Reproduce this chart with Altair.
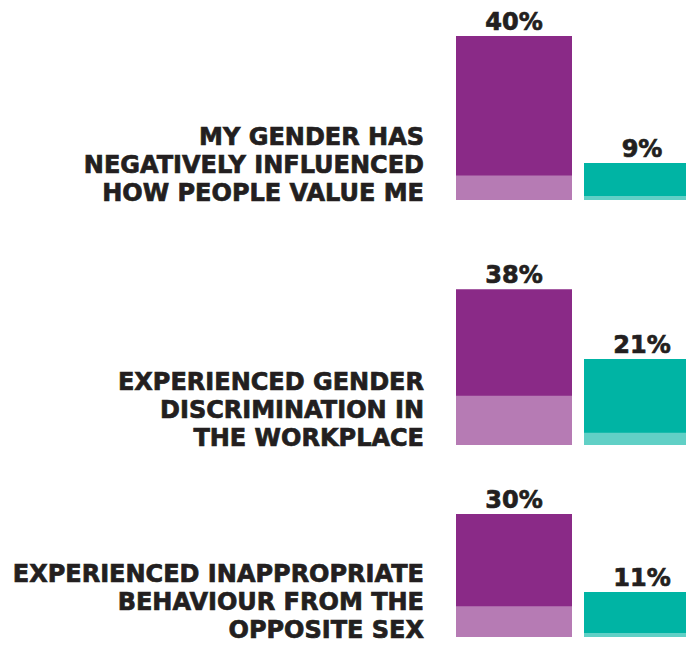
import altair as alt
import pandas as pd

# ---- data ----
statements = [
    ["MY GENDER HAS", "NEGATIVELY INFLUENCED", "HOW PEOPLE VALUE ME"],
    ["EXPERIENCED GENDER", "DISCRIMINATION IN", "THE WORKPLACE"],
    ["EXPERIENCED INAPPROPRIATE", "BEHAVIOUR FROM THE", "OPPOSITE SEX"],
]
series = ["Women", "Men"]
purple_values = [40, 38, 30]
teal_values = [9, 21, 11]
# lighter lower band of each bar (percentage points)
purple_shade = [6, 12, 7.5]
teal_shade = [1, 3, 1]

# ---- styling ----
PURPLE = "#8A2A87"
TEAL = "#00B4A4"
INK = "#231F20"
FONT = "DejaVu Sans"
K = 4.1          # pixels per percentage point
BASE = 7         # pixels of room below the bars
W = 678
heights = [199, 245, 192]


def panel(i):
    H = heights[i]
    df = pd.DataFrame({
        "series": series,
        "value": [purple_values[i], teal_values[i]],
        "shade": [purple_shade[i], teal_shade[i]],
    })
    df["label"] = df["value"].astype(str) + "%"
    lab = pd.DataFrame({"text": [statements[i]]})

    yscale = alt.Scale(domain=[-BASE / K, (H - BASE) / K], nice=False, zero=False)
    xscale = alt.Scale(domain=series, range=[448, 692], paddingInner=0.09375, paddingOuter=0)

    base = alt.Chart(df).encode(
        x=alt.X("series:N", scale=xscale, axis=None),
    )
    bars = base.mark_bar(clip=True).encode(
        y=alt.Y("value:Q", scale=yscale, axis=None, stack=None),
        y2=alt.datum(0),
        color=alt.Color("series:N", scale=alt.Scale(domain=series, range=[PURPLE, TEAL]), legend=None),
    )
    shade = base.mark_bar(clip=True, color="white", opacity=0.38).encode(
        y=alt.Y("shade:Q", scale=yscale, axis=None, stack=None),
        y2=alt.datum(0),
    )
    values = base.mark_text(
        font=FONT, fontSize=24, fontWeight="bold", color=INK, stroke=INK, strokeWidth=0.7,
        baseline="alphabetic", dy=-6
    ).encode(
        y=alt.Y("value:Q", scale=yscale, axis=None),
        text="label:N",
    )
    text = alt.Chart(lab).transform_calculate(z="0").mark_text(
        font=FONT, fontSize=24, fontWeight="bold", color=INK, stroke=INK, strokeWidth=0.7,
        align="right", baseline="top", lineHeight=28, dy=-74.5
    ).encode(
        x=alt.value(416),
        y=alt.Y("z:Q", scale=yscale, axis=None),
        text="text",
    )
    return alt.layer(bars, shade, values, text).properties(width=W, height=H)


chart = alt.vconcat(*[panel(i) for i in range(3)], spacing=0).properties(
    padding=0
).configure_view(stroke=None)

chart.save("out.html", embed_options={"renderer": "svg", "actions": False})
